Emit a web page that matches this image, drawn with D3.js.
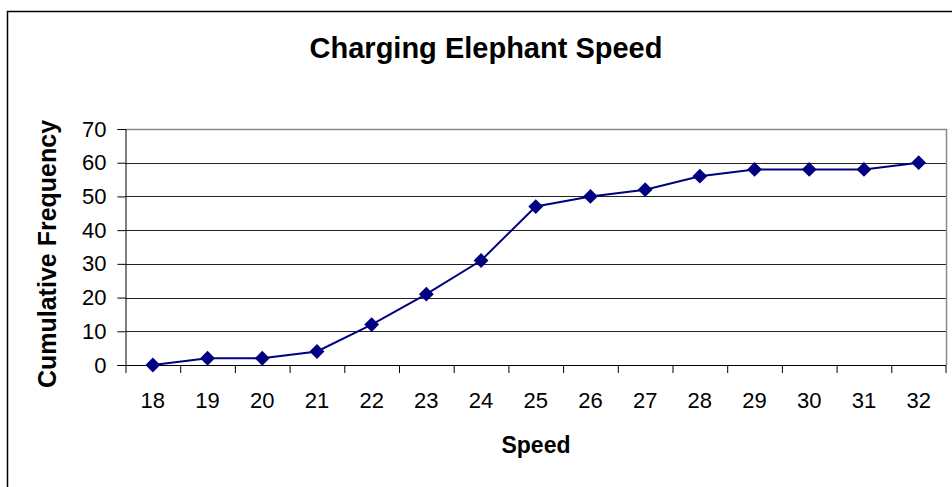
<!DOCTYPE html>
<html lang="en">
<head>
<meta charset="UTF-8">
<script src="https://d3js.org/d3.v7.min.js"></script>
<title>Charging Elephant Speed</title>
<style>
  body { margin: 0; background: #fff; }
  text { font-family: "Liberation Sans", Arial, sans-serif; fill: #000; }
</style>
</head>
<body>
<script>
    // data
    var speeds = ["18","19","20","21","22","23","24","25","26","27","28","29","30","31","32"];
    var cumFreq = [0, 2, 2, 4, 12, 21, 31, 47, 50, 52, 56, 58, 58, 58, 60];
    var yTicks = [0, 10, 20, 30, 40, 50, 60, 70];

    var width = 952, height = 487;
    var plotLeft = 125.5, plotRight = 946, plotTop = 129, plotBottom = 365;

    var svg = d3.select("body").append("svg")
            .attr("width", width)
            .attr("height", height);

    // outer chart border
    svg.append("rect")
            .attr("x", 7.5).attr("y", 11.5)
            .attr("width", 960).attr("height", 500)
            .attr("fill", "#fff")
            .attr("stroke", "#000")
            .attr("stroke-width", 1.5);

    var x = d3.scaleBand()
            .domain(speeds)
            .range([plotLeft, plotRight]);

    var y = d3.scaleLinear()
            .domain([0, 70])
            .range([plotBottom, plotTop]);

    // gridlines
    svg.append("g")
            .selectAll("line")
            .data(yTicks.filter(function (d) { return d > 0 && d < 70; }))
            .enter().append("line")
            .attr("x1", plotLeft).attr("x2", plotRight)
            .attr("y1", function (d) { return Math.round(y(d)) + 0.5; })
            .attr("y2", function (d) { return Math.round(y(d)) + 0.5; })
            .attr("stroke", "#222")
            .attr("stroke-width", 1);

    // plot area frame (top, right in gray)
    svg.append("path")
            .attr("d", "M" + plotLeft + "," + (plotTop + 0.5) + "H" + (plotRight + 0.5) + "V" + plotBottom)
            .attr("fill", "none")
            .attr("stroke", "#888")
            .attr("stroke-width", 1.5);

    // y axis
    var yAxis = d3.axisLeft(y)
            .tickValues(yTicks)
            .tickSize(8)
            .tickPadding(11);
    var gy = svg.append("g")
            .attr("transform", "translate(" + plotLeft + ",0)")
            .call(yAxis);
    gy.attr("font-size", null).attr("font-family", null);
    gy.select(".domain").attr("stroke", "#000");
    gy.selectAll(".tick line").attr("stroke", "#000");
    gy.selectAll("text").style("font-size", "22px");

    // x axis
    var xAxis = d3.axisBottom(x)
            .tickSize(0)
            .tickPadding(27);
    var gx = svg.append("g")
            .attr("transform", "translate(0," + plotBottom + ")")
            .call(xAxis);
    gx.attr("font-size", null).attr("font-family", null);
    gx.select(".domain").remove();
    gx.append("line")
            .attr("x1", plotLeft - 8).attr("x2", plotRight)
            .attr("y1", 0.5).attr("y2", 0.5)
            .attr("stroke", "#000");
    gx.selectAll(".sep")
            .data(speeds)
            .enter().append("line")
            .attr("class", "sep")
            .attr("x1", function (d) { return x(d) + 0.5; })
            .attr("x2", function (d) { return x(d) + 0.5; })
            .attr("y1", 0).attr("y2", 8)
            .attr("stroke", "#000");
    gx.append("line")
            .attr("x1", plotRight).attr("x2", plotRight)
            .attr("y1", 0).attr("y2", 8)
            .attr("stroke", "#000");
    gx.selectAll(".tick text").style("font-size", "22px");

    // line + markers
    var pts = speeds.map(function (s, i) { return [s, cumFreq[i]]; });
    var line = d3.line()
            .x(function (d) { return x(d[0]) + x.bandwidth() / 2; })
            .y(function (d) { return y(d[1]); });

    svg.append("path")
            .datum(pts)
            .attr("d", line)
            .attr("fill", "none")
            .attr("stroke", "#000080")
            .attr("stroke-width", 2);

    svg.selectAll(".pt")
            .data(pts)
            .enter().append("path")
            .attr("class", "pt")
            .attr("d", d3.symbol().type(d3.symbolDiamond2).size(140))
            .attr("transform", function (d) {
                return "translate(" + (x(d[0]) + x.bandwidth() / 2) + "," + y(d[1]) + ")";
            })
            .attr("fill", "#000080");

    // titles
    svg.append("text")
            .attr("x", 486).attr("y", 58)
            .attr("text-anchor", "middle")
            .style("font-size", "29px")
            .style("font-weight", "bold")
            .text("Charging Elephant Speed");

    svg.append("text")
            .attr("x", 536).attr("y", 453)
            .attr("text-anchor", "middle")
            .style("font-size", "23px")
            .style("font-weight", "bold")
            .text("Speed");

    svg.append("text")
            .attr("transform", "translate(56,254) rotate(-90)")
            .attr("text-anchor", "middle")
            .style("font-size", "25px")
            .style("font-weight", "bold")
            .text("Cumulative Frequency");
</script>
</body>
</html>
